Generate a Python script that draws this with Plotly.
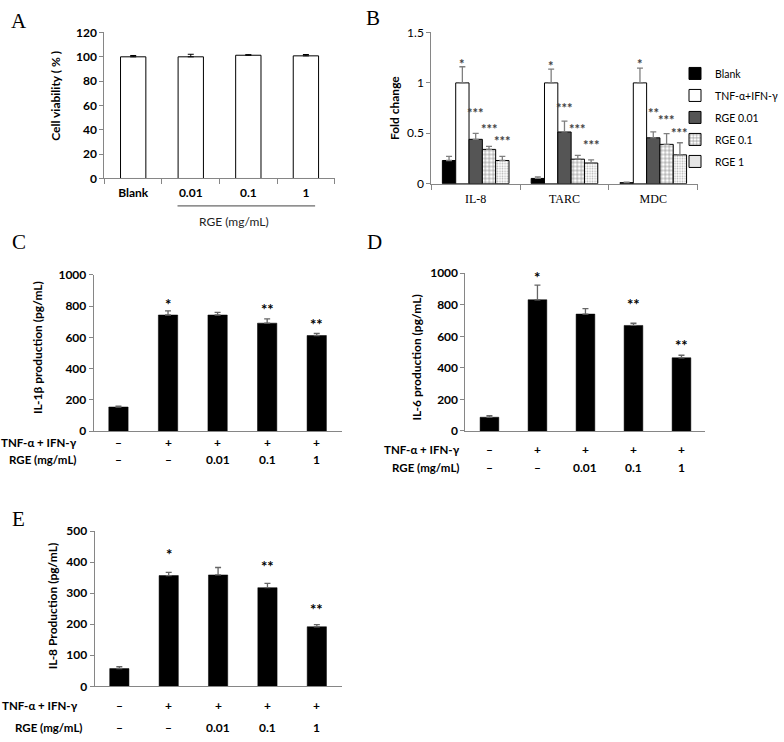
import plotly.graph_objects as go

W, H = 784, 742

# ---------------- data ----------------
# Panel A
a_categories = ["Blank", "0.01", "0.1", "1"]
a_values = [100.0, 100.0, 101.3, 100.8]
a_errors = [1.1, 2.1, 0.5, 1.1]

# Panel B
b_categories = ["IL-8", "TARC", "MDC"]
b_series_names = ["Blank", "TNF-α+IFN-γ", "RGE 0.01", "RGE 0.1", "RGE 1"]
b_blank = [0.23, 0.052, 0.01]
b_blank_err = [0.04, 0.016, 0.004]
b_tnf = [1.0, 1.0, 1.0]
b_tnf_err = [0.16, 0.136, 0.146]
b_rge001 = [0.44, 0.513, 0.455]
b_rge001_err = [0.06, 0.107, 0.058]
b_rge01 = [0.34, 0.243, 0.39]
b_rge01_err = [0.03, 0.037, 0.107]
b_rge1 = [0.23, 0.205, 0.286]
b_rge1_err = [0.04, 0.032, 0.12]
b_sig = [
    ["", "", ""],
    ["*", "*", "*"],
    ["***", "***", "**"],
    ["***", "***", "***"],
    ["***", "***", "***"],
]
b_sig_y = [
    [None, None, None],
    [1.23, 1.21, 1.23],
    [0.74, 0.79, 0.74],
    [0.58, 0.58, 0.67],
    [0.46, 0.425, 0.54],
]

# Panels C, D, E (shared treatment rows)
tnf_row = ["–", "+", "+", "+", "+"]
rge_row = ["–", "–", "0.01", "0.1", "1"]
row_names = ["TNF-α + IFN-γ", "RGE (mg/mL)"]

c_values = [155, 743, 743, 691, 612]
c_errors = [5, 27, 17, 27, 14]
c_sig = ["", "*", "", "**", "**"]
c_sig_y = [None, 848, None, 816, 718]

d_values = [87, 832, 741, 669, 464]
d_errors = [10, 93, 35, 14, 16]
d_sig = ["", "*", "", "**", "**"]
d_sig_y = [None, 1008, None, 838, 576]

e_values = [57, 357, 359, 318, 192]
e_errors = [6, 10, 24, 14, 7]
e_sig = ["", "*", "", "**", "**"]
e_sig_y = [None, 444, None, 405, 265]

# ---------------- helpers ----------------
def px(x):
    return x / W


def py(y):
    return 1 - y / H


SANS = "Lato, 'Open Sans', 'Liberation Sans', sans-serif"
SERIF = "'Liberation Serif', 'DejaVu Serif', serif"
AXIS_GRAY = "#868686"

treat_cats = [f"{t} | {r}" for t, r in zip(tnf_row, rge_row)]

fig = go.Figure()
annotations = []
shapes = []

# ---------------- Panel A ----------------
fig.add_trace(go.Bar(
    x=a_categories, y=a_values, xaxis="x", yaxis="y", width=0.44,
    marker=dict(color="white", line=dict(color="black", width=1)),
    error_y=dict(type="data", array=a_errors, arrayminus=[0] * len(a_errors),
                 symmetric=False, color="black", thickness=1, width=3),
    showlegend=False,
))

# ---------------- Panel B ----------------
b_values = [b_blank, b_tnf, b_rge001, b_rge01, b_rge1]
b_errors = [b_blank_err, b_tnf_err, b_rge001_err, b_rge01_err, b_rge1_err]
b_markers = [
    dict(color="black", line=dict(color="black", width=1)),
    dict(color="white", line=dict(color="black", width=1)),
    dict(color="#555555", line=dict(color="black", width=1)),
    dict(color="white", line=dict(color="black", width=1),
         pattern=dict(shape="+", fgcolor="black", bgcolor="white", size=4, solidity=0.3)),
    dict(color="white", line=dict(color="black", width=1),
         pattern=dict(shape=".", fgcolor="#6a6a6a", bgcolor="white", size=2.5, solidity=0.35)),
]
for i, name in enumerate(b_series_names):
    fig.add_trace(go.Bar(
        x=b_categories, y=b_values[i], name=name, xaxis="x2", yaxis="y2",
        marker=b_markers[i], legendgroup=name,
        error_y=dict(type="data", array=b_errors[i], arrayminus=[0] * 3,
                     symmetric=False, color="#7f7f7f", thickness=1.3, width=3),
    ))
    for j in range(len(b_categories)):
        if b_sig[i][j]:
            annotations.append(dict(
                x=j + (i - 2) * 0.15, y=b_sig_y[i][j], xref="x2", yref="y2",
                text=f"<b>{b_sig[i][j]}</b>", showarrow=False, yshift=-4,
                font=dict(family=SANS, size=13, color="#404040"),
            ))

# ---------------- Panels C, D, E ----------------
panels = [
    ("x3", "y3", 1000, c_values, c_errors, c_sig, c_sig_y),
    ("x4", "y4", 1000, d_values, d_errors, d_sig, d_sig_y),
    ("x5", "y5", 500, e_values, e_errors, e_sig, e_sig_y),
]
for xa, ya, ymax, vals, errs, sig, sig_y in panels:
    fig.add_trace(go.Bar(
        x=treat_cats, y=vals, xaxis=xa, yaxis=ya, width=0.39,
        marker=dict(color="black", line=dict(color="black", width=0.5)),
        error_y=dict(type="data", array=errs, arrayminus=[0] * len(errs),
                     symmetric=False, color="#666666", thickness=1.3, width=3),
        showlegend=False,
    ))
    for k, s in enumerate(sig):
        if s:
            yv = sig_y[k]
            extra = 0
            if yv > ymax:  # keep annotation inside axis range, shift in pixels instead
                extra = (yv - ymax) / ymax * 160
                yv = ymax
            annotations.append(dict(
                x=treat_cats[k], y=yv, xref=xa, yref=ya, text=f"<b>{s}</b>",
                showarrow=False, yshift=-5 + extra,
                font=dict(family=SANS, size=15, color="black"),
            ))

# treatment rows under C, D, E
row_layout = [
    ("x3", 443, 461, 81, 81),
    ("x4", 451, 469, 473, 473),
    ("x5", 712, 734, 82, 87),
]
for xa, y1, y2, r1, r2 in row_layout:
    for yy, rx, name, row in ((y1, r1, row_names[0], tnf_row), (y2, r2, row_names[1], rge_row)):
        annotations.append(dict(
            x=px(rx), y=py(yy), xref="paper", yref="paper", text=f"<b>{name}</b>",
            showarrow=False, xanchor="right", yanchor="middle",
            font=dict(family=SANS, size=11.5, color="black"),
        ))
        for k, v in enumerate(row):
            annotations.append(dict(
                x=treat_cats[k], y=py(yy), xref=xa, yref="paper", text=f"<b>{v}</b>",
                showarrow=False, xanchor="center", yanchor="middle",
                font=dict(family=SANS, size=12, color="black"),
            ))

# ---------------- panel letters ----------------
for letter, lx, ly in (("A", 19, 13), ("B", 382, 10), ("C", 19, 239), ("D", 384, 239), ("E", 19, 522)):
    annotations.append(dict(
        x=px(lx), y=py(ly), xref="paper", yref="paper", text=letter, showarrow=False,
        xanchor="center", yanchor="middle", font=dict(family=SERIF, size=21, color="black"),
    ))

# ---------------- y-axis titles ----------------
for title, tx, ty in (
    ("Cell viability ( % )", 57, 90),
    ("Fold change", 405, 102),
    ("IL-1β production (pg/mL)", 39, 347),
    ("IL-6 production (pg/mL)", 427, 357),
    ("IL-8 Production (pg/mL)", 54, 610),
):
    annotations.append(dict(
        x=px(tx), y=py(ty), xref="paper", yref="paper", text=f"<b>{title}</b>",
        showarrow=False, textangle=-90, xanchor="center", yanchor="middle",
        font=dict(family=SANS, size=12, color="black"),
    ))

# Panel A: RGE bracket line + label
shapes.append(dict(type="line", xref="x", yref="paper", x0=0.77, x1=3.16,
                   y0=py(202), y1=py(202), line=dict(color="#444444", width=1)))
annotations.append(dict(
    x=px(240), y=py(218), xref="paper", yref="paper", text="RGE (mg/mL)",
    showarrow=False, xanchor="center", yanchor="middle",
    font=dict(family=SANS, size=12, color="#222222"),
))

# ---------------- axes ----------------
def yaxis(domain, rng, dtick, bold=True, anchor="x"):
    return dict(
        domain=domain, range=rng, dtick=dtick, anchor=anchor,
        showline=True, linecolor=AXIS_GRAY, linewidth=1,
        ticks="outside", ticklen=4, tickcolor=AXIS_GRAY, showgrid=False, zeroline=False,
        tickfont=dict(family=SANS, size=12, color="black", weight="bold" if bold else "normal"),
        fixedrange=True,
    )


def xaxis(domain, anchor, ticks=True, labels=True, font=None):
    d = dict(
        domain=domain, anchor=anchor, type="category",
        showline=True, linecolor=AXIS_GRAY, linewidth=1, showgrid=False, zeroline=False,
        showticklabels=labels, fixedrange=True,
    )
    if ticks:
        d.update(ticks="outside", ticklen=5, tickcolor=AXIS_GRAY, tickson="boundaries")
    else:
        d.update(ticks="")
    if font:
        d["tickfont"] = font
    return d


fig.update_layout(
    width=W, height=H, margin=dict(l=0, r=0, t=0, b=0),
    paper_bgcolor="white", plot_bgcolor="white",
    barmode="group", bargap=0.25, bargroupgap=0,
    font=dict(family=SANS, color="black"),
    xaxis=xaxis([px(107), px(343)], "y",
                font=dict(family=SANS, size=12, color="black", weight="bold")),
    yaxis=yaxis([py(174), py(25)], [0, 120], 20, anchor="x"),
    xaxis2=xaxis([px(442), px(715)], "y2",
                 font=dict(family=SERIF, size=12, color="black")),
    yaxis2=yaxis([py(179.3), py(25)], [0, 1.5], 0.5, bold=False, anchor="x2"),
    xaxis3=xaxis([px(96), px(350)], "y3", ticks=False, labels=False),
    yaxis3=yaxis([py(432), py(272.3)], [0, 1000], 200, anchor="x3"),
    xaxis4=xaxis([px(477), px(723)], "y4", ticks=False, labels=False),
    yaxis4=yaxis([py(431.7), py(270.7)], [0, 1000], 200, anchor="x4"),
    xaxis5=xaxis([px(97), px(350)], "y5", ticks=False, labels=False),
    yaxis5=yaxis([py(692.3), py(534)], [0, 500], 100, anchor="x5"),
    legend=dict(x=px(692), y=py(52), xanchor="left", yanchor="top",
                font=dict(family=SANS, size=10.5, color="black"),
                tracegroupgap=3, itemwidth=30, bgcolor="rgba(0,0,0,0)"),
    annotations=annotations,
    shapes=shapes,
)
fig.update_xaxes(ticklabelstandoff=3, selector=dict(anchor="y"))
fig.update_xaxes(ticklabelstandoff=4, selector=dict(anchor="y2"))

fig.write_html(
    "out.html",
    config={"displayModeBar": False},
    post_script="document.body.style.margin='0';document.body.style.padding='0';"
                "document.body.style.overflow='hidden';",
)
